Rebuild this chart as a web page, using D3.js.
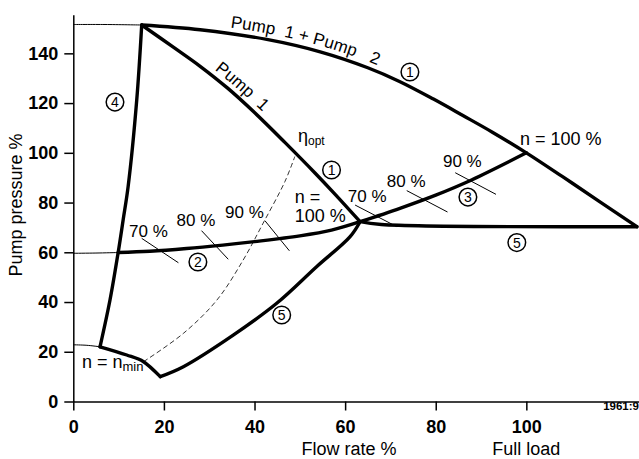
<!DOCTYPE html>
<html>
<head>
<meta charset="utf-8">
<script src="https://cdn.jsdelivr.net/npm/d3@7"></script>
<style>
  body { margin: 0; background: #fff; }
  svg { display: block; font-family: "Liberation Sans", Arial, Helvetica, sans-serif; }
  .eixo path, .eixo line { stroke: #000; stroke-width: 1.5; }
  .eixo text { font-size: 18px; font-weight: bold; fill: #000; }
  .grossa { fill: none; stroke: #000; stroke-width: 3.4; stroke-linejoin: round; stroke-linecap: round; }
  .fina { fill: none; stroke: #000; stroke-width: 1; }
  .tracejada { fill: none; stroke: #000; stroke-width: 0.8; stroke-dasharray: 5,3; }
  .rotulo { font-size: 17px; fill: #000; }
</style>
</head>
<body>
<svg id="grafico"></svg>
<script>
// marcas dos eixos
const flowTicks = [0, 20, 40, 60, 80, 100];
const pressureTicks = [0, 20, 40, 60, 80, 100, 120, 140];

// curvas (vazao %, pressao %)
const pump12Thin = [[0, 151.6], [7, 151.6], [15.1, 151.4]];
const pump12 = [[15.1, 151.4], [28, 149.5], [42.7, 145.6], [54.5, 140.6], [65, 134.2], [72, 128.7],
                [79.5, 121.6], [86, 115], [92.5, 108.3], [100, 100], [108, 90.4], [116, 80.6], [124.4, 70.3]];
const pump1 = [[15.1, 151.4], [22, 142.6], [28, 134.8], [34, 126.1], [40, 116.2], [46.7, 104.2],
               [53.4, 91.8], [57.8, 83.3], [63.3, 72.3]];
const curve2Thin = [[0, 59.6], [5, 59.7], [9.9, 59.9]];
const curve2 = [[9.9, 59.9], [16.9, 60.4], [25, 61.5], [33, 62.9], [40, 64.3], [50, 66.6], [57, 68.9], [63.3, 72.3]];
const curve3 = [[63.3, 72.3], [72.1, 77.7], [80, 83], [87.9, 89.1], [100, 100]];
const curve4 = [[15.1, 151.4], [14, 121.2], [12.1, 86.4], [11, 73], [9.9, 59.9], [8.1, 40.8], [5.9, 22]];
const minThin = [[0, 22.8], [3, 22.6], [5.9, 22]];
const minCurve = [[5.9, 22], [11.8, 18.7], [15.5, 16], [19.2, 10]];
const curve5 = [[19.2, 10], [24.3, 14], [35.3, 26.7], [44.9, 39.5], [53.7, 54.2], [61.1, 66.3], [63.3, 72.3]];
const curve5Flat = [[63.3, 72.3], [68, 71.2], [124.4, 70.3]];
const etaOpt = [[15.5, 16], [24.3, 27.4], [31.7, 40.8], [37.5, 56.9], [41.9, 71.7], [46.7, 88.4], [48.9, 98.5]];

// tracos de rendimento (inicio e fim)
const effMarks = [
  [[15.1, 65.6], [23.2, 55.8]], [[28.3, 68.7], [34.2, 57.2]], [[42.3, 72.7], [47.7, 60.6]],
  [[62.2, 79], [71.4, 70.3]], [[73.6, 84.8], [82.6, 76.2]], [[84.3, 92], [93.3, 83.3]]
];
const effLabels = [
  { texto: '70 %', q: 12.3, h: 66.3 }, { texto: '80 %', q: 22.8, h: 70.6 }, { texto: '90 %', q: 33.5, h: 73.8 },
  { texto: '70 %', q: 60.6, h: 80.3 }, { texto: '80 %', q: 69.2, h: 86.4 }, { texto: '90 %', q: 81.6, h: 94.4 }
];

// numeros circulados
const circled = [
  { n: '1', q: 74.3, h: 132.5 }, { n: '1', q: 57, h: 93.1 }, { n: '2', q: 27.5, h: 56.1 },
  { n: '3', q: 87.1, h: 82.2 }, { n: '4', q: 9.2, h: 120.4 }, { n: '5', q: 46, h: 34.8 }, { n: '5', q: 97.9, h: 63.9 }
];

const largura = 639, altura = 459;
const svg = d3.select('#grafico').attr('width', largura).attr('height', altura);

// escalas
const x = d3.scaleLinear().domain([0, 125]).range([73.3, 639.6]);
const y = d3.scaleLinear().domain([0, 155.5]).range([401.5, 14.8]);

// eixos
svg.append('g')
    .attr('class', 'eixo')
    .attr('transform', `translate(0, ${y(0)})`)
    .call(d3.axisBottom(x).tickValues(flowTicks).tickSize(9).tickSizeOuter(0).tickPadding(9.5));
svg.append('g')
    .attr('class', 'eixo')
    .attr('transform', `translate(${x(0)}, 0)`)
    .call(d3.axisLeft(y).tickValues(pressureTicks).tickSize(9).tickSizeOuter(0).tickPadding(6));

const linha = d3.line().x(d => x(d[0])).y(d => y(d[1])).curve(d3.curveCatmullRom.alpha(0.5));

// linhas finas
[pump12Thin, curve2Thin, minThin].forEach(d => svg.append('path').attr('class', 'fina').attr('d', linha(d)));
effMarks.forEach(d => svg.append('path').attr('class', 'fina').attr('d', d3.line().x(p => x(p[0])).y(p => y(p[1]))(d)));
svg.append('path').attr('class', 'tracejada').attr('d', linha(etaOpt));

// linhas grossas
svg.append('path').attr('id', 'pump12').attr('class', 'grossa').attr('d', linha(pump12));
svg.append('path').attr('id', 'pump1').attr('class', 'grossa').attr('d', linha(pump1));
[curve2, curve3, curve4, minCurve, curve5, curve5Flat]
  .forEach(d => svg.append('path').attr('class', 'grossa').attr('d', linha(d)));

// textos ao longo das curvas das bombas
svg.append('text').attr('class', 'rotulo').attr('dy', -6)
  .append('textPath').attr('href', '#pump12').attr('startOffset', 88)
  .text('Pump\u00a0\u00a01 + Pump\u00a0\u00a0\u00a02');
svg.append('text').attr('class', 'rotulo').attr('dy', -6)
  .append('textPath').attr('href', '#pump1').attr('startOffset', 85)
  .text('Pump\u00a0\u00a01');

// rotulos de rendimento
svg.selectAll('.eff').data(effLabels).enter().append('text')
    .attr('class', 'rotulo eff')
    .attr('x', d => x(d.q)).attr('y', d => y(d.h))
    .text(d => d.texto);

// numeros circulados
const circ = svg.selectAll('.circ').data(circled).enter().append('g')
    .attr('class', 'circ')
    .attr('transform', d => `translate(${x(d.q)}, ${y(d.h)})`);
circ.append('circle').attr('r', 8.8).attr('fill', 'none').attr('stroke', '#000').attr('stroke-width', 1.5);
circ.append('text').attr('text-anchor', 'middle').attr('dy', '0.36em')
    .style('font-size', '14px').text(d => d.n);

// outros rotulos
svg.append('text').attr('class', 'rotulo').style('font-size', '18px')
    .attr('x', x(98.6)).attr('y', y(103.1)).text('n = 100 %');
svg.append('text').attr('class', 'rotulo').style('font-size', '18px')
    .attr('x', x(48.9)).attr('y', y(79.8)).text('n =');
svg.append('text').attr('class', 'rotulo').style('font-size', '18px')
    .attr('x', x(48.9)).attr('y', y(72.3)).text('100 %');

const eta = svg.append('text').attr('class', 'rotulo').style('font-size', '18px')
    .attr('x', x(49.6)).attr('y', y(104.5));
eta.append('tspan').text('\u03b7');
eta.append('tspan').attr('dy', 3).style('font-size', '12px').text('opt');

const nmin = svg.append('text').attr('class', 'rotulo').style('font-size', '18px')
    .attr('x', x(1.9)).attr('y', y(13.5));
nmin.append('tspan').text('n = n');
nmin.append('tspan').attr('dy', 3).style('font-size', '13px').text('min');

svg.append('text').style('font-size', '11.5px').style('font-weight', 'bold')
    .attr('x', 639).attr('y', 410).attr('text-anchor', 'end').text('1961:9');

// titulos dos eixos
svg.append('text').style('font-size', '18px').attr('text-anchor', 'middle')
    .attr('x', 349).attr('y', 455).text('Flow rate %');
svg.append('text').style('font-size', '18px').attr('text-anchor', 'middle')
    .attr('x', x(100)).attr('y', 455).text('Full load');
svg.append('text').style('font-size', '18px').attr('text-anchor', 'middle')
    .attr('transform', 'translate(22, 205) rotate(-90)').text('Pump pressure %');
</script>
</body>
</html>
